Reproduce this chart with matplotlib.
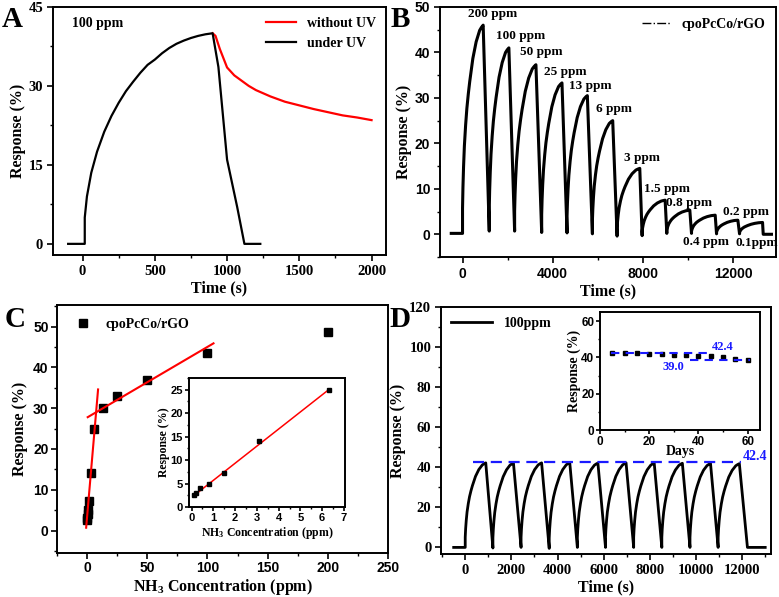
import matplotlib
matplotlib.use('Agg')
import matplotlib.pyplot as plt
import numpy as np
from matplotlib.lines import Line2D
from matplotlib.ticker import MultipleLocator

plt.rcParams['font.family'] = 'Liberation Serif'
plt.rcParams['font.weight'] = 'bold'
plt.rcParams['axes.labelweight'] = 'bold'
plt.rcParams['mathtext.fontset'] = 'custom'
plt.rcParams['mathtext.rm'] = 'Liberation Serif:bold'
plt.rcParams['mathtext.it'] = 'Liberation Serif:bold'
plt.rcParams['mathtext.bf'] = 'Liberation Serif:bold'
plt.rcParams['axes.linewidth'] = 1.4
plt.rcParams['xtick.direction'] = 'out'
plt.rcParams['ytick.direction'] = 'out'

# ---- panel A: 100 ppm, with / without UV
a_rise_t = [-100, 15, 15, 30, 60, 100, 150, 200, 250, 300, 350, 400, 450, 500, 550, 600, 650, 700, 750, 800, 850, 900]
a_rise_y = [0, 0, 5, 9, 13.5, 17.5, 21.3, 24.3, 26.8, 29, 30.8, 32.5, 34, 35, 36.2, 37.2, 38, 38.6, 39.1, 39.5, 39.8, 40]
a_red_t = [900, 920, 950, 1000, 1050, 1100, 1150, 1200, 1300, 1400, 1500, 1600, 1700, 1800, 1900, 2000]
a_red_y = [40, 39.5, 37, 33.5, 32, 31, 30, 29.2, 28, 27, 26.3, 25.6, 25, 24.4, 24, 23.5]
a_uv_t = [900, 940, 1000, 1070, 1120, 1230]
a_uv_y = [40, 33.6, 16, 7, 0, 0]

# shape of one adsorption step (fraction of time, fraction of height)
rise_frac = [0.0, 0.0, 0.02, 0.05, 0.09, 0.15, 0.21, 0.28, 0.35, 0.42, 0.5, 0.58, 0.66, 0.75, 0.83, 0.92, 1.0]
rise_level = [0.0, 0.12, 0.22, 0.32, 0.42, 0.52, 0.6, 0.67, 0.73, 0.78, 0.84, 0.88, 0.92, 0.95, 0.975, 0.99, 1.0]

# ---- panel B: dynamic response to concentrations
b_conc = ['200 ppm', '100 ppm', '50 ppm', '25 ppm', '13 ppm', '6 ppm', '3 ppm',
          '1.5 ppm', '0.8 ppm', '0.4 ppm', '0.2 ppm', '0.1ppm']
b_peak_t = [915, 2055, 3255, 4410, 5535, 6660, 7860, 8985, 10080, 11205, 12210, 13305]
b_peak_y = [46, 41, 37.3, 33.3, 30.5, 25, 14.5, 7.5, 5.3, 4.2, 3.1, 2.6]
b_min_t = [1185, 2310, 3510, 4635, 5760, 6855, 7965, 9060, 10155, 11265, 12285, 13335]
b_min_y = [0.7, 0.7, 0.4, 0.3, 0.1, -0.4, -0.3, 0.2, 0.2, 0.1, 0.1, 0.0]
b_lab_t = [1335, 2580, 3510, 4560, 5685, 6735, 7965, 9060, 10035, 10785, 12585, 13035]
b_lab_y = [48.5, 43.7, 40, 35.6, 32.7, 27.6, 16.7, 10, 6.8, -1.6, 5.0, -1.9]

# ---- panel C: calibration
c_conc = [0.1, 0.2, 0.4, 0.8, 1.5, 3, 6, 13, 25, 50, 100, 200]
c_resp = [2.5, 3, 4, 5, 7.2, 14, 25, 30, 33, 37, 43.5, 48.7]
c_fit_lo_x = [-0.8, 9.1]
c_fit_lo_y = [0.7, 34.6]
c_fit_hi_x = [0.5, 105]
c_fit_hi_y = [27.8, 45.9]
ci_conc = [0.1, 0.2, 0.4, 0.8, 1.5, 3.1, 6.3]
ci_resp = [2.5, 3, 4, 5, 7.2, 14, 25]
ci_fit_x = [0.1, 6.3]
ci_fit_y = [2.4, 25]

# ---- panel D: repeatability and stability
d_peak_t = [890, 2090, 3310, 4530, 5750, 6970, 8190, 9410, 10630, 11880]
d_peak_y = [42.2, 42.1, 42.2, 42.3, 42.1, 42.2, 42.1, 42.0, 41.9, 41.8]
d_min_t = [1200, 2420, 3640, 4860, 6080, 7300, 8520, 9740, 10960, 12230]
d_min_y = [-0.3, 0, -0.5, 0, 0, 0, 0, 0, 0, 0]
days = [5, 10, 15, 20, 25, 30, 35, 40, 45, 50, 55, 60]
day_resp = [42.4, 42.2, 42.2, 41.8, 41.8, 41.3, 41.3, 40.9, 40.5, 40.0, 39.1, 38.5]


def build(t0, y0, peak_t, peak_y, min_t, min_y, t_end):
    t = [t0 - 500, t0]
    y = [y0, y0]
    s, base = t0, y0
    for pt, py, mt, my in zip(peak_t, peak_y, min_t, min_y):
        for f, l in zip(rise_frac, rise_level):
            t.append(s + f * (pt - s))
            y.append(base + l * (py - base))
        t.append(mt)
        y.append(my)
        s, base = mt, my
    t.append(t_end)
    y.append(0)
    return t, y


def ticks(ax, fam, size, pad=3):
    for lab in ax.get_xticklabels() + ax.get_yticklabels():
        lab.set_family(fam)
        lab.set_fontsize(size)
        lab.set_weight('bold')
    ax.tick_params(which='major', length=4, width=1.2, pad=pad)
    ax.tick_params(which='minor', length=2.5, width=1.0)


fig = plt.figure(figsize=(7.79, 5.97), dpi=100)

# A
ax = fig.add_axes([0.068, 0.573, 0.4275, 0.4154])
ax.plot(a_red_t, a_red_y, color='red', lw=1.6, label='without UV')
ax.plot(a_rise_t + a_uv_t, a_rise_y + a_uv_y, color='black', lw=1.6, label='under UV')
ax.set_xlim(-205, 2100)
ax.set_ylim(-2.1, 45)
ax.set_yticks([0, 15, 30, 45])
ax.set_xticks([0, 500, 1000, 1500, 2000])
ax.xaxis.set_minor_locator(MultipleLocator(250))
ax.yaxis.set_minor_locator(MultipleLocator(7.5))
ax.set_xlabel('Time (s)', fontsize=11.5, labelpad=2)
ax.set_ylabel('Response (%)', fontsize=11.5, labelpad=2)
ax.text(0.057, 0.935, '100 ppm', transform=ax.transAxes, fontsize=10, va='center')
ax.legend(loc='upper right', frameon=False, fontsize=10, handlelength=2.2,
          borderaxespad=0.3, labelspacing=0.5)
ticks(ax, 'Liberation Serif', 10.5)

# B
ax = fig.add_axes([0.5648, 0.5695, 0.4313, 0.4188])
bt, by = build(0, 0.2, b_peak_t, b_peak_y, b_min_t, b_min_y, 13700)
ax.plot(bt, by, color='black', lw=2.2)
for lab, x, y in zip(b_conc, b_lab_t, b_lab_y):
    ax.text(x, y, lab, fontsize=9.5, ha='center', va='center')
ax.set_xlim(-1000, 13900)
ax.set_ylim(-5, 50)
ax.set_xticks([0, 4000, 8000, 12000])
ax.xaxis.set_minor_locator(MultipleLocator(2000))
ax.yaxis.set_minor_locator(MultipleLocator(5))
ax.set_xlabel('Time (s)', fontsize=11.5, labelpad=2)
ax.set_ylabel('Response (%)', fontsize=11.5, labelpad=2)
ax.legend([Line2D([], [], color='black', ls='-.', lw=1.0)], ['cpoPcCo/rGO'],
          loc='upper right', frameon=False, fontsize=10, handlelength=2.0,
          borderaxespad=0.4)
ticks(ax, 'Liberation Sans', 10)

# C
ax = fig.add_axes([0.0732, 0.0737, 0.4249, 0.4154])
ax.plot(c_conc, c_resp, 's', color='black', ms=6, label='cpoPcCo/rGO')
ax.plot(c_fit_lo_x, c_fit_lo_y, color='red', lw=1.5)
ax.plot(c_fit_hi_x, c_fit_hi_y, color='red', lw=1.5)
ax.set_xlim(-25, 250)
ax.set_ylim(-5.5, 55.3)
ax.set_xticks([0, 50, 100, 150, 200, 250])
ax.set_yticks([0, 10, 20, 30, 40, 50])
ax.xaxis.set_minor_locator(MultipleLocator(25))
ax.yaxis.set_minor_locator(MultipleLocator(5))
ax.set_xlabel('NH$_3$ Concentration (ppm)', fontsize=11.5, labelpad=1)
ax.set_ylabel('Response (%)', fontsize=11.5, labelpad=4)
ax.legend(loc='upper left', frameon=False, fontsize=10, handletextpad=0.6,
          borderaxespad=0.5)
ticks(ax, 'Liberation Sans', 10, pad=2)

ax = fig.add_axes([0.2426, 0.1508, 0.2003, 0.2161])
ax.plot(ci_fit_x, ci_fit_y, color='red', lw=1.1)
ax.plot(ci_conc, ci_resp, 's', color='black', ms=2.2)
ax.set_xlim(-0.12, 7.05)
ax.set_ylim(0, 27.5)
ax.set_xticks(range(8))
ax.set_yticks([0, 5, 10, 15, 20, 25])
ax.xaxis.set_minor_locator(MultipleLocator(0.5))
ax.yaxis.set_minor_locator(MultipleLocator(2.5))
ax.set_xlabel('NH$_3$ Concentration (ppm)', fontsize=8.5, labelpad=1)
ax.set_ylabel('Response (%)', fontsize=8.5, labelpad=0)
ticks(ax, 'Liberation Sans', 8, pad=1.5)
ax.tick_params(which='major', length=3)
ax.tick_params(which='minor', length=1.5)

# D
ax = fig.add_axes([0.5661, 0.0720, 0.4236, 0.4137])
dt, dy = build(0, 0, d_peak_t, d_peak_y, d_min_t, d_min_y, 13000)
ax.plot(dt, dy, color='black', lw=2.0, label='100ppm')
ax.plot([320, 11930], [42.4, 42.4], color='#1a1aff', lw=1.6, ls=(0, (5, 3)))
ax.text(12030, 45.5, '42.4', color='#1a1aff', fontsize=10, va='center')
ax.set_xlim(-1050, 13250)
ax.set_ylim(-3.3, 120)
ax.set_xticks(range(0, 12001, 2000))
ax.set_yticks(range(0, 121, 20))
ax.xaxis.set_minor_locator(MultipleLocator(1000))
ax.yaxis.set_minor_locator(MultipleLocator(10))
ax.set_xlabel('Time (s)', fontsize=11.5, labelpad=2)
ax.set_ylabel('Response (%)', fontsize=11.5, labelpad=2)
ax.legend(loc='upper left', frameon=False, fontsize=10, handlelength=3.0,
          borderaxespad=0.3)
ticks(ax, 'Liberation Serif', 10.5)

ax = fig.add_axes([0.7702, 0.2797, 0.2054, 0.1977])
ax.plot(days, day_resp, 's', color='black', ms=2.2)
ax.plot([4.5, 44], [42.4, 42.4], color='#1a1aff', lw=1.5, ls=(0, (4, 3)))
ax.plot([36.5, 61], [38.3, 38.3], color='#1a1aff', lw=1.5, ls=(0, (4, 3)))
ax.text(45.5, 42.6, '42.4', color='#1a1aff', fontsize=9, va='bottom')
ax.text(25.3, 38.0, '39.0', color='#1a1aff', fontsize=9, va='top')
ax.set_xlim(0, 65)
ax.set_ylim(0, 65)
ax.set_xticks([0, 20, 40, 60])
ax.set_yticks([0, 20, 40, 60])
ax.xaxis.set_minor_locator(MultipleLocator(10))
ax.yaxis.set_minor_locator(MultipleLocator(10))
ax.set_xlabel('Days', fontsize=10, labelpad=-1.5)
ax.set_ylabel('Response (%)', fontsize=10, labelpad=0)
ticks(ax, 'Liberation Sans', 8.5, pad=1)
ax.tick_params(which='major', length=3)
ax.tick_params(which='minor', length=1.5)

for lab, x, y in [('A', 0.002, 0.99), ('B', 0.502, 0.99), ('C', 0.006, 0.487), ('D', 0.5, 0.487)]:
    fig.text(x, y, lab, fontsize=21, fontweight='bold', va='top', ha='left')

fig.savefig('out.png', dpi=100)
